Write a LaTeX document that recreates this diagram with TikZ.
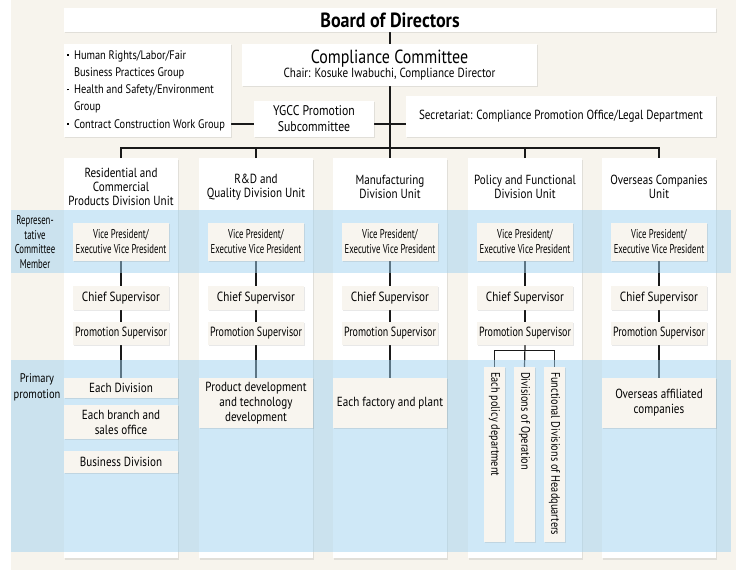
\documentclass[tikz,border=0pt]{standalone}
\usepackage{fontspec}
\setmainfont{PT Sans}[FakeStretch=0.84]
\newfontfamily\narrowfont{PT Sans}[FakeStretch=0.68]
\newfontfamily\squeezefont{PT Sans}[FakeStretch=0.75]
\newfontfamily\boardfont{PT Sans}[FakeStretch=0.88]
\usepackage{xcolor}
\usetikzlibrary{positioning, shadows}
\definecolor{creamback}{RGB}{247,244,237}
\definecolor{creambox}{RGB}{248,245,239}
\definecolor{bandblue}{RGB}{160,210,240}
\definecolor{inkblack}{RGB}{25,25,25}
\pgfdeclarelayer{back}
\pgfdeclarelayer{wires}
\pgfdeclarelayer{bands}
\pgfsetlayers{back,wires,bands,main}
\newcommand{\grpdot}{\makebox[7pt][l]{\raisebox{3.4pt}{\rule{1.7pt}{1.7pt}}}}

\begin{document}
\begin{tikzpicture}[
  x=1pt, y=-1pt,
  font=\fontsize{13.3}{15}\selectfont,
  softshadow/.style={drop shadow={shadow xshift=0.8pt, shadow yshift=-1.4pt,
                     opacity=0.18}},
  panel/.style={fill=white, inner sep=2pt, align=center, softshadow},
  unitcol/.style={panel, minimum width=114pt, minimum height=400pt, anchor=north},
  unittitle/.style={align=center, font=\fontsize{13.2}{14}\selectfont},
  rolebox/.style={fill=creambox, inner sep=1pt, align=center, minimum width=96pt,
                  softshadow},
  sitebox/.style={fill=creambox, inner sep=1pt, align=center, minimum width=114pt,
                  font=\fontsize{13.2}{15}\selectfont, softshadow},
  deptbox/.style={fill=creambox, rotate=-90, minimum width=175pt, minimum height=21pt,
                  inner ysep=0pt, inner xsep=5pt,
                  font=\fontsize{12.3}{13}\selectfont, softshadow},
  wire/.style={line width=1.2pt, inkblack},
  band/.style={fill=bandblue, fill opacity=0.5},
  sidelabel/.style={align=center, font=\narrowfont\fontsize{12.8}{14.5}\selectfont}
]
  \useasboundingbox (0,0) rectangle (736,570);

  \begin{pgfonlayer}{back}
    \fill[creamback] (11,0) rectangle (736,570);
    % division units
    \node[unitcol] (u1) at (121,158) {};
    \node[unitcol] (u2) at (256,158) {};
    \node[unitcol] (u3) at (390,158) {};
    \node[unitcol] (u4) at (525,158) {};
    \node[unitcol] (u5) at (659,158) {};
  \end{pgfonlayer}

  % top of the chart
  \node[panel, minimum width=652pt, minimum height=24pt, inner sep=0pt,
        font=\boardfont\fontsize{20.5}{21}\selectfont\bfseries] (board) at (390,20) {Board of Directors};
  \node[panel, minimum width=295pt, minimum height=42pt, inner sep=0pt] (comm) at (389.5,65)
    {{\fontsize{19}{17}\selectfont Compliance Committee}\\[-1pt]
     {\fontsize{13.2}{13}\selectfont Chair: Kosuke Iwabuchi, Compliance Director}};
  \node[panel, minimum width=167pt, minimum height=93pt, inner xsep=3pt,
        align=left, font=\fontsize{12.4}{17.3}\selectfont] (groups) at (147.5,90.5)
    {\makebox[161pt][l]{\grpdot Human Rights/Labor/Fair}\\
     \hspace*{7pt}Business Practices Group\\
     \grpdot Health and Safety/Environment\\
     \hspace*{7pt}Group\\
     \grpdot Contract Construction Work Group};
  \node[panel, minimum width=120pt, minimum height=36pt,
        font=\fontsize{14}{16}\selectfont] (ygcc) at (314,119) {YGCC Promotion\\Subcommittee};
  \node[panel, minimum width=310pt, minimum height=41pt,
        font=\fontsize{13.2}{14}\selectfont] (sec) at (561,116.5)
    {Secretariat: Compliance Promotion Office/Legal Department};

  \coordinate (tee) at (390,124);
  \coordinate (hub) at (390,148);

  % unit titles
  \node[unittitle] (t1) at (121,187) {Residential and\\Commercial\\Products Division Unit};
  \node[unittitle] (t2) at (256,187) {R\&D and\\Quality Division Unit};
  \node[unittitle] (t3) at (390,187) {Manufacturing\\Division Unit};
  \node[unittitle] (t4) at (525,187) {Policy and Functional\\Division Unit};
  \node[unittitle] (t5) at (659,187) {Overseas Companies\\Unit};

  % representative committee members
  \node[rolebox, minimum height=38pt, font=\narrowfont\fontsize{12.8}{15}\selectfont] (vp1) at (121,242)
    {Vice President/\\Executive Vice President};
  \node[rolebox, minimum height=38pt, font=\narrowfont\fontsize{12.8}{15}\selectfont] (vp2) at (256,242)
    {Vice President/\\Executive Vice President};
  \node[rolebox, minimum height=38pt, font=\narrowfont\fontsize{12.8}{15}\selectfont] (vp3) at (390,242)
    {Vice President/\\Executive Vice President};
  \node[rolebox, minimum height=38pt, font=\narrowfont\fontsize{12.8}{15}\selectfont] (vp4) at (525,242)
    {Vice President/\\Executive Vice President};
  \node[rolebox, minimum height=38pt, font=\narrowfont\fontsize{12.8}{15}\selectfont] (vp5) at (659,242)
    {Vice President/\\Executive Vice President};

  \node[rolebox, minimum height=24pt] (cs1) at (121,298) {Chief Supervisor};
  \node[rolebox, minimum height=24pt] (cs2) at (256,298) {Chief Supervisor};
  \node[rolebox, minimum height=24pt] (cs3) at (390,298) {Chief Supervisor};
  \node[rolebox, minimum height=24pt] (cs4) at (525,298) {Chief Supervisor};
  \node[rolebox, minimum height=24pt] (cs5) at (659,298) {Chief Supervisor};

  \node[rolebox, minimum height=23pt, font=\squeezefont\fontsize{13.3}{15}\selectfont] (ps1) at (121,333.5) {Promotion Supervisor};
  \node[rolebox, minimum height=23pt, font=\squeezefont\fontsize{13.3}{15}\selectfont] (ps2) at (256,333.5) {Promotion Supervisor};
  \node[rolebox, minimum height=23pt, font=\squeezefont\fontsize{13.3}{15}\selectfont] (ps3) at (390,333.5) {Promotion Supervisor};
  \node[rolebox, minimum height=23pt, font=\squeezefont\fontsize{13.3}{15}\selectfont] (ps4) at (525,333.5) {Promotion Supervisor};
  \node[rolebox, minimum height=23pt, font=\squeezefont\fontsize{13.3}{15}\selectfont] (ps5) at (659,333.5) {Promotion Supervisor};

  % primary promotion
  \node[sitebox, minimum height=20pt] (ed1) at (121,388) {Each Division};
  \node[sitebox, minimum height=34pt] (br1) at (121,422) {Each branch and\\sales office};
  \node[sitebox, minimum height=22pt] (bd1) at (121,462) {Business Division};
  \node[sitebox, minimum height=50pt] (pd2) at (256,403)
    {Product development\\and technology\\development};
  \node[sitebox, minimum height=50pt] (fp3) at (390,403) {Each factory and plant};
  \node[sitebox, minimum height=50pt] (oa5) at (659,403) {Overseas affiliated\\companies};
  \node[deptbox] (dp4) at (494.5,454.5) {\makebox[165pt][l]{Each policy department}};
  \node[deptbox] (op4) at (524.5,454.5) {\makebox[165pt][l]{Divisions of Operation}};
  \node[deptbox] (hq4) at (554.5,454.5) {\makebox[165pt][l]{Functional Divisions of Headquarters}};

  % side labels
  \node[sidelabel] (replabel) at (35,242) {Represen-\\tative\\Committee\\Member};
  \node[align=center, font=\fontsize{12.5}{16.5}\selectfont] (primlabel) at (37,387.5) {Primary\\promotion};

  \begin{pgfonlayer}{bands}
    \fill[band] (11,210) rectangle (731,273);
    \fill[band] (11,360) rectangle (731,552);
  \end{pgfonlayer}

  \begin{pgfonlayer}{wires}
    \draw[wire] (board.south) -- (hub);
    \draw[wire] (groups.east |- tee) -- (ygcc.west |- tee);
    \draw[wire] (ygcc.east |- tee) -- (sec.west |- tee);
    \draw[wire] (u1.north) |- (hub) -| (u5.north);
    \draw[wire] (hub) -- (u3.north);
    \draw[wire] (u2.north) -- (u2.north |- hub);
    \draw[wire] (u4.north) -- (u4.north |- hub);
    \draw[wire] (vp1) -- (ed1);
    \draw[wire] (vp2) -- (pd2);
    \draw[wire] (vp3) -- (fp3);
    \draw[wire] (vp4) -- (ps4);
    \draw[wire] (vp5) -- (oa5);
    \draw[wire] (ps4.south) -- (op4.west);
    \draw[wire] (dp4.west) -- ++(0,-16) -| (hq4.west);
  \end{pgfonlayer}
\end{tikzpicture}
\end{document}
